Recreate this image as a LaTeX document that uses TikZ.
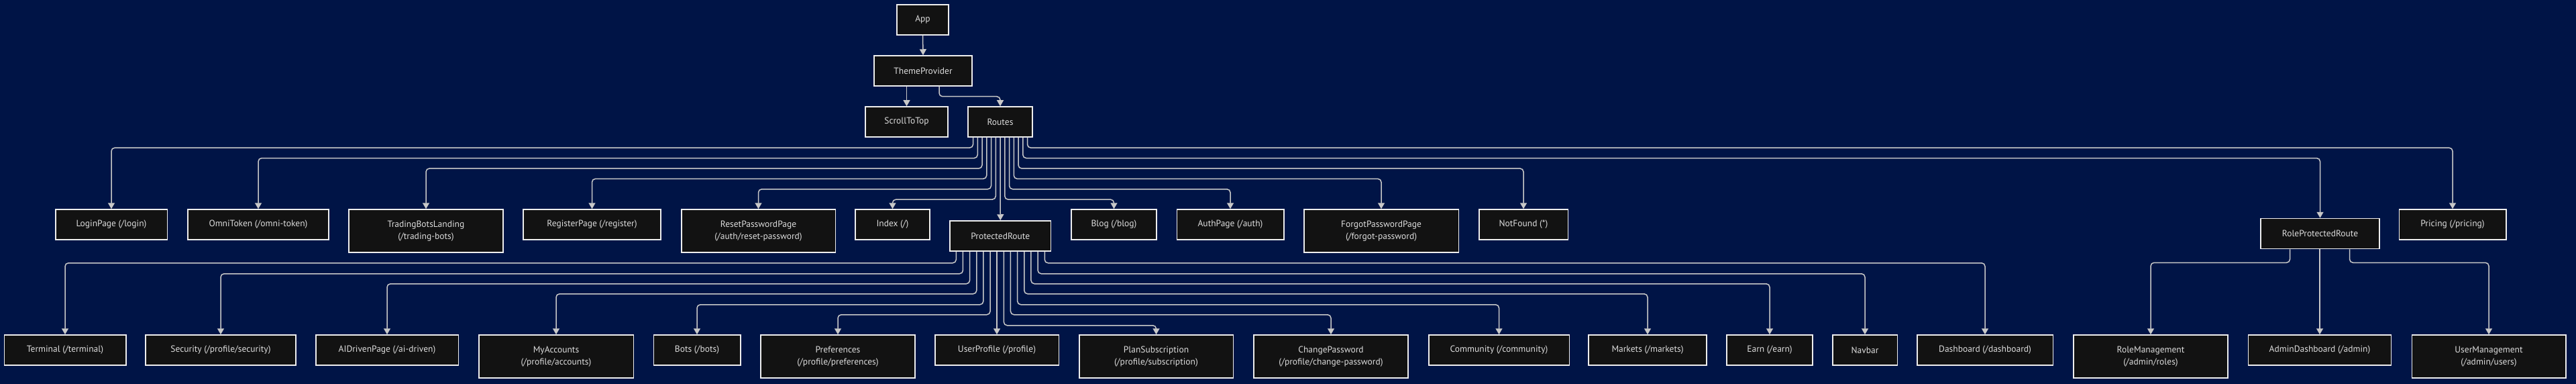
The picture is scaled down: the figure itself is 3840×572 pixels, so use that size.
\documentclass[tikz,border=0pt]{standalone}
\usepackage{fontspec}
\setmainfont{PT Sans}
\usepackage{tikz}
\usetikzlibrary{positioning,arrows.meta}

\definecolor{pagebg}{HTML}{001446}
\definecolor{boxfill}{HTML}{121212}
\definecolor{boxedge}{HTML}{EEEEEE}
\definecolor{boxtext}{HTML}{DDDDDD}
\definecolor{linkgray}{HTML}{C8C8C8}

\begin{document}
\begin{tikzpicture}[x=1pt, y=-1pt,
routenode/.style={rectangle, draw=boxedge, fill=boxfill, text=boxtext, line width=1.5pt, inner sep=0pt, minimum height=45pt, align=center, font=\fontsize{13.5}{18}\selectfont},
routenodetall/.style={routenode, minimum height=64pt},
link/.style={draw=linkgray, line width=1.5pt, rounded corners=5pt, -{Triangle[width=10pt,length=9pt]}},
]
\fill[pagebg] (0,0) rectangle (3840,572);
\useasboundingbox (0,0) rectangle (3840,572);

%Nodes
\node[routenode, minimum width=77pt]      (App)            at (1375.5,29.5)  {App};
\node[routenode, minimum width=146pt]     (ThemeProvider)  at (1376,105.5)   {ThemeProvider};
\node[routenode, minimum width=123pt]     (ScrollToTop)    at (1351.5,181.5) {ScrollToTop};
\node[routenode, minimum width=96pt]      (Routes)         at (1491,181.5)   {Routes};

\node[routenode, minimum width=166.5pt]   (LoginPage)      at (166,334.5)    {LoginPage (/login)};
\node[routenode, minimum width=210pt]     (OmniToken)      at (385,334.5)    {OmniToken (/omni-token)};
\node[routenodetall, minimum width=230pt] (TradingBots)    at (635,344)      {TradingBotsLanding\\(/trading-bots)};
\node[routenode, minimum width=205pt]     (RegisterPage)   at (882.5,334.5)  {RegisterPage (/register)};
\node[routenodetall, minimum width=229.5pt] (ResetPassword) at (1130.5,344)  {ResetPasswordPage\\(/auth/reset-password)};
\node[routenode, minimum width=111pt]     (Index)          at (1330.5,334.5) {Index (/)};
\node[routenode, minimum width=150.5pt]   (ProtectedRoute) at (1491.25,351.5) {ProtectedRoute};
\node[routenode, minimum width=127pt]     (Blog)           at (1660.5,334.5) {Blog (/blog)};
\node[routenode, minimum width=159.5pt]   (AuthPage)       at (1834,334.5)   {AuthPage (/auth)};
\node[routenodetall, minimum width=230.5pt] (ForgotPassword) at (2059,344)   {ForgotPasswordPage\\(/forgot-password)};
\node[routenode, minimum width=132.5pt]   (NotFound)       at (2271,334.5)   {NotFound (*)};
\node[routenode, minimum width=177pt]     (RoleProtectedRoute) at (3458.5,348) {RoleProtectedRoute};
\node[routenode, minimum width=159.5pt]   (Pricing)        at (3656,334.5)   {Pricing (/pricing)};

\node[routenode, minimum width=181.5pt]   (Terminal)       at (97,521.5)     {Terminal (/terminal)};
\node[routenode, minimum width=224pt]     (Security)       at (329,521.5)    {Security (/profile/security)};
\node[routenode, minimum width=212.5pt]   (AIDrivenPage)   at (577,521.5)    {AIDrivenPage (/ai-driven)};
\node[routenodetall, minimum width=230.5pt] (MyAccounts)   at (829,531)      {MyAccounts\\(/profile/accounts)};
\node[routenode, minimum width=129.5pt]   (Bots)           at (1039,521.5)   {Bots (/bots)};
\node[routenodetall, minimum width=230pt] (Preferences)    at (1249,531)     {Preferences\\(/profile/preferences)};
\node[routenode, minimum width=184.5pt]   (UserProfile)    at (1486,521.5)   {UserProfile (/profile)};
\node[routenodetall, minimum width=229.5pt] (PlanSubscription) at (1723.5,531) {PlanSubscription\\(/profile/subscription)};
\node[routenodetall, minimum width=230pt] (ChangePassword) at (1984,531)     {ChangePassword\\(/profile/change-password)};
\node[routenode, minimum width=209.5pt]   (Community)      at (2234.5,521.5) {Community (/community)};
\node[routenode, minimum width=176pt]     (Markets)        at (2456,521.5)   {Markets (/markets)};
\node[routenode, minimum width=128pt]     (Earn)           at (2638,521.5)   {Earn (/earn)};
\node[routenode, minimum width=96.5pt]    (Navbar)         at (2780,521.5)   {Navbar};
\node[routenode, minimum width=202.5pt]   (Dashboard)      at (2959,521.5)   {Dashboard (/dashboard)};
\node[routenodetall, minimum width=230pt] (RoleManagement) at (3206,531)     {RoleManagement\\(/admin/roles)};
\node[routenode, minimum width=213pt]     (AdminDashboard) at (3458,521.5)   {AdminDashboard (/admin)};
\node[routenodetall, minimum width=229.5pt] (UserManagement) at (3710,531)   {UserManagement\\(/admin/users)};

%Lines
\draw[link] (App.south) -- (ThemeProvider.north);
\draw[link] (ScrollToTop.north |- ThemeProvider.south) -- (ScrollToTop.north);
\draw[link] ([xshift=24pt]ThemeProvider.south) -- ++(0,15) -| (Routes.north);

\draw[link] ([xshift=-40.5pt]Routes.south) -- ++(0,15.4) -| (LoginPage.north);
\draw[link] ([xshift=-33.75pt]Routes.south) -- ++(0,30.8) -| (OmniToken.north);
\draw[link] ([xshift=-27pt]Routes.south) -- ++(0,46.2) -| (TradingBots.north);
\draw[link] ([xshift=-20.25pt]Routes.south) -- ++(0,61.6) -| (RegisterPage.north);
\draw[link] ([xshift=-13.5pt]Routes.south) -- ++(0,77) -| (ResetPassword.north);
\draw[link] ([xshift=-6.75pt]Routes.south) -- ++(0,92.4) -| (Index.north);
\draw[link] (Routes.south) -- (ProtectedRoute.north);
\draw[link] ([xshift=6.75pt]Routes.south) -- ++(0,92.4) -| (Blog.north);
\draw[link] ([xshift=13.5pt]Routes.south) -- ++(0,77) -| (AuthPage.north);
\draw[link] ([xshift=20.25pt]Routes.south) -- ++(0,61.6) -| (ForgotPassword.north);
\draw[link] ([xshift=27pt]Routes.south) -- ++(0,46.2) -| (NotFound.north);
\draw[link] ([xshift=33.75pt]Routes.south) -- ++(0,30.8) -| (RoleProtectedRoute.north);
\draw[link] ([xshift=40.5pt]Routes.south) -- ++(0,15.4) -| (Pricing.north);

\draw[link] ([xshift=-66pt]ProtectedRoute.south) -- ++(0,17) -| (Terminal.north);
\draw[link] ([xshift=-55.8pt]ProtectedRoute.south) -- ++(0,33) -| (Security.north);
\draw[link] ([xshift=-45.7pt]ProtectedRoute.south) -- ++(0,48) -| (AIDrivenPage.north);
\draw[link] ([xshift=-35.5pt]ProtectedRoute.south) -- ++(0,63) -| (MyAccounts.north);
\draw[link] ([xshift=-25.4pt]ProtectedRoute.south) -- ++(0,79) -| (Bots.north);
\draw[link] ([xshift=-15.2pt]ProtectedRoute.south) -- ++(0,94) -| (Preferences.north);
\draw[link] (UserProfile.north |- ProtectedRoute.south) -- (UserProfile.north);
\draw[link] ([xshift=5.1pt]ProtectedRoute.south) -- ++(0,110) -| (PlanSubscription.north);
\draw[link] ([xshift=15.2pt]ProtectedRoute.south) -- ++(0,94) -| (ChangePassword.north);
\draw[link] ([xshift=25.4pt]ProtectedRoute.south) -- ++(0,79) -| (Community.north);
\draw[link] ([xshift=35.5pt]ProtectedRoute.south) -- ++(0,63) -| (Markets.north);
\draw[link] ([xshift=45.7pt]ProtectedRoute.south) -- ++(0,48) -| (Earn.north);
\draw[link] ([xshift=55.8pt]ProtectedRoute.south) -- ++(0,33) -| (Navbar.north);
\draw[link] ([xshift=66pt]ProtectedRoute.south) -- ++(0,17) -| (Dashboard.north);

\draw[link] ([xshift=-45pt]RoleProtectedRoute.south) -- ++(0,20) -| (RoleManagement.north);
\draw[link] (AdminDashboard.north |- RoleProtectedRoute.south) -- (AdminDashboard.north);
\draw[link] ([xshift=44pt]RoleProtectedRoute.south) -- ++(0,20) -| (UserManagement.north);
\end{tikzpicture}
\end{document}
